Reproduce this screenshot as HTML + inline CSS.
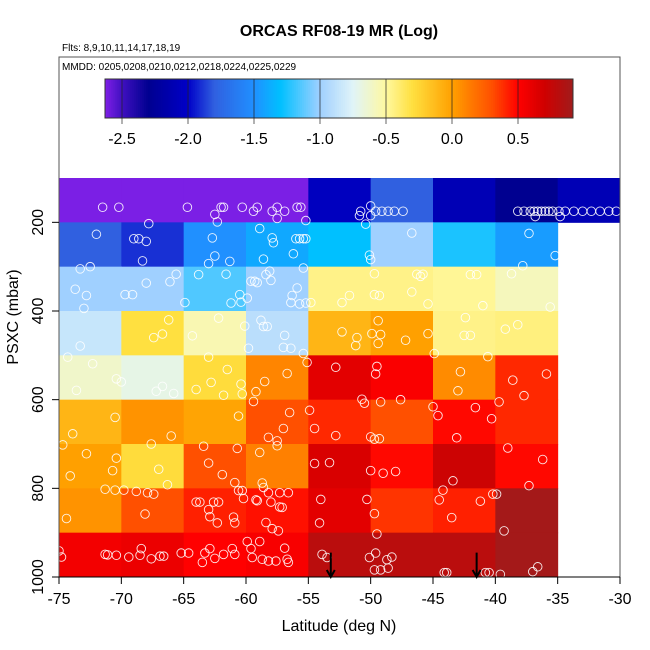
<!DOCTYPE html>
<html><head><meta charset="utf-8"><style>
body{margin:0;background:#fff}
svg{display:block;font-family:"Liberation Sans",sans-serif}
</style></head><body>
<svg id="c" width="650" height="650" viewBox="0 0 650 650" xmlns="http://www.w3.org/2000/svg">
<rect width="650" height="650" fill="#fff"/>
<g id="cells"></g>
<g id="pts"></g>
<g id="arrows"></g>
<rect x="59" y="57" width="561" height="520" fill="none" stroke="#555" stroke-width="1"/>
<g id="cbar"></g>
<g id="axes"></g>
<text x="339" y="36" text-anchor="middle" font-size="16" font-weight="bold">ORCAS RF08-19 MR (Log)</text>
<text x="62" y="51" font-size="10">Flts: 8,9,10,11,14,17,18,19</text>
<text x="62" y="70" font-size="10">MMDD: 0205,0208,0210,0212,0218,0224,0225,0229</text>
<text x="339" y="631" text-anchor="middle" font-size="16">Latitude (deg N)</text>
<text transform="translate(18,317) rotate(-90)" text-anchor="middle" font-size="16">PSXC (mbar)</text>
</svg>
<script>
const latBins=[-75,-70,-65,-60,-55,-50,-45,-40,-35,-30];
const presBins=[100,200,300,400,500,600,700,800,900,1000];
const row1=[-2.62,-2.62,-2.62,-2.62,-2.05,-1.8,-2.1,-2.3,-2.1];
const row2=[-1.8,-1.9,-1.5,-1.4,-1.3,-1.0,-1.25,-1.45,null];
const row3=[-1.0,-1.0,-1.15,-1.0,-0.45,-0.45,-0.48,-0.58,null];
const row4=[-0.85,-0.3,-0.55,-0.9,-0.1,0.0,-0.45,-0.43,null];
const row5=[-0.62,-0.7,-0.28,0.1,0.62,0.52,0.08,0.4,null];
const row6=[-0.1,0.05,-0.02,0.3,0.4,0.3,0.48,0.4,null];
const row7=[0.0,-0.28,0.3,0.12,0.66,0.48,0.72,0.48,null];
const row8=[0.05,0.3,0.42,0.46,0.62,0.37,0.42,0.9,null];
const row9=[0.55,0.58,0.5,0.53,0.8,0.8,0.8,0.9,null];
const gridRows=[row1,row2,row3,row4,row5,row6,row7,row8,row9];
const xTicks=[-75,-70,-65,-60,-55,-50,-45,-40,-35,-30];
const yTicks=[200,400,600,800,1000];
const cbTicks=[-2.5,-2.0,-1.5,-1.0,-0.5,0.0,0.5];
const arrowLats=[-53.2,-41.5];
const obsPoints=[[-71.5,166],[-70.2,166],[-64.7,166],[-62.5,182],[-62.3,199],[-62,166],[-61.8,166],[-60.3,166],[-59.4,175],[-59.1,166],[-57.9,175],[-57.5,166],[-57.5,191],[-56.9,175],[-55.9,166],[-55.6,166],[-55.2,196],
[-50.9,185],[-50.8,175],[-50,163],[-50,185],[-50.4,204],[-49.6,175],[-49.1,175],[-48.6,175],[-48.1,175],[-47.4,175],
[-38.2,175],[-37.7,175],[-37.2,175],[-36.9,175],[-36.6,175],[-36.3,175],[-36,175],[-35.7,175],[-35.4,175],[-34.9,175],[-34.4,175],[-33.7,175],[-33,175],[-32.3,175],[-31.6,175],[-30.9,175],[-30.3,175],[-36.8,187],[-34.8,187],
[-72,227],[-69,237],[-68.6,237],[-68,243],[-67.8,203],[-68.3,287],[-62.7,235],[-62.5,276],[-63,293],[-61.3,288],[-58.9,214],[-57.9,235],[-57.8,246],[-58.6,283],[-56.2,271],[-56,237],[-55.7,237],[-55.4,237],[-55.2,237],[-55.4,303],[-50.1,274],[-50,284],[-46.7,224],[-37.3,225],[-37.8,298],[-35.2,275],
[-73.3,305],[-72.5,300],[-73.7,351],[-72.8,365],[-73,394],[-69.7,363],[-69.1,363],[-68,337],[-66.1,334],[-65.6,317],[-64.9,381],[-63.8,318],[-61.6,317],[-60.5,363],[-61.2,382],[-60.4,380],[-59.9,371],[-59.6,333],[-59.3,333],[-59.1,336],[-58.4,318],[-58.1,310],[-58,331],[-55.9,348],[-56.3,365],[-56.4,381],[-55.7,384],[-55.2,382],[-54.8,381],[-52.3,381],[-51.7,365],[-49.7,316],[-49.7,363],[-49.3,365],[-46.7,357],[-46.3,317],[-46,322],[-45.8,317],[-45.4,384],[-42,318],[-41.5,318],[-41,388],[-38.7,316],[-35.6,391],
[-73.3,479],[-66.2,420],[-67.4,460],[-66.7,452],[-64.3,456],[-62.2,416],[-58.8,421],[-60.1,434],[-58.6,435],[-58.3,435],[-56.9,455],[-57,482],[-56.4,484],[-59.8,484],[-55.4,496],[-52.3,447],[-51.1,460],[-51.2,478],[-49.4,422],[-49.9,451],[-49.2,453],[-49.4,473],[-47.2,466],[-45.4,451],[-42.4,415],[-42.5,455],[-42,455],[-39.2,441],[-38.2,431],[-44.9,496],
[-74.3,504],[-72.3,519],[-73.6,579],[-70.4,553],[-70,560],[-67.2,581],[-66.7,570],[-65.8,586],[-63,504],[-61.5,532],[-62.8,561],[-64,577],[-61.8,590],[-60.4,565],[-60.3,587],[-59.2,582],[-58.5,559],[-59.4,604],[-56.7,541],[-55.1,516],[-52.8,527],[-49.5,525],[-49.6,542],[-50.7,599],[-50.5,608],[-49.2,605],[-47.6,600],[-42.8,537],[-43,580],[-40.6,503],[-38.6,556],[-37.7,591],[-35.9,542],[-39.7,605],
[-70.5,640],[-73.9,677],[-74.7,702],[-66,682],[-67.6,700],[-60.6,637],[-56.5,629],[-57,665],[-58.2,685],[-57.5,693],[-57.5,704],[-54.9,624],[-54.5,665],[-52.8,681],[-50,684],[-49.7,689],[-49.3,688],[-45,616],[-44.6,636],[-41.6,618],[-40.3,643],[-43.1,686],[-39,709],
[-72.8,722],[-70.4,732],[-70.7,760],[-74.1,772],[-67,757],[-66.3,792],[-63.4,705],[-63,743],[-61.9,769],[-60.7,710],[-58.9,719],[-58.7,788],[-58.6,798],[-60.9,787],[-60.6,805],[-60.3,805],[-54.5,744],[-53.3,742],[-50,760],[-49,766],[-48,762],[-43.4,783],[-44.2,804],[-36.2,735],[-37.3,794],
[-74.4,868],[-71.3,802],[-70.5,804],[-69.8,804],[-68.8,807],[-67.9,810],[-67.4,813],[-68.1,858],[-64,831],[-63.7,831],[-62.6,831],[-62.2,831],[-63,848],[-62.9,864],[-62.3,878],[-60.2,823],[-59.2,826],[-59.1,828],[-58.2,810],[-57.3,810],[-56.6,810],[-58,831],[-57.3,842],[-57.1,843],[-61,865],[-60.9,878],[-58.4,877],[-57.9,891],[-57.4,896],[-54,825],[-54.1,878],[-50.3,825],[-49.7,857],[-49.5,903],[-44.5,826],[-43.5,866],[-41.2,829],[-40.2,813],[-39.9,813],[-39.3,896],
[-75,941],[-74.8,955],[-71.3,949],[-71.1,950],[-70.4,951],[-69.4,955],[-68.4,936],[-68.5,951],[-67.6,959],[-66.9,953],[-66.6,953],[-65.2,946],[-64.6,946],[-63.5,967],[-63.3,946],[-62.9,936],[-62.5,958],[-61.8,949],[-61.1,936],[-60.9,949],[-59.9,920],[-59.6,936],[-58.9,920],[-59.5,956],[-58.7,960],[-58.2,964],[-57.6,964],[-56.9,935],[-56.7,960],[-56.6,967],[-53.9,949],[-53.5,956],[-50.1,956],[-49.6,946],[-49.7,984],[-49.2,984],[-48.6,980],[-48.7,961],[-48.3,955],[-44.1,990],[-43.9,990],[-40.8,990],[-40.5,990],[-39.6,994],[-37,988],[-36.6,977]];

const NS="http://www.w3.org/2000/svg";
const X=lat=>59+(lat+75)*561/45;
const Y=p=>178+(p-100)*399/900;
const CB=v=>452+v*132;
const stops=[[-2.63,[128,32,232]],[-2.5,[64,16,192]],[-2.3,[0,0,144]],[-2.0,[0,0,200]],[-1.8,[48,96,224]],[-1.5,[32,144,255]],[-1.3,[0,192,255]],[-1.0,[160,208,255]],[-0.75,[224,244,248]],[-0.5,[255,248,160]],[-0.3,[255,224,64]],[0,[255,160,0]],[0.3,[255,80,0]],[0.5,[255,0,0]],[0.7,[208,0,0]],[0.92,[160,28,28]]];
function col(v){
  if(v<=stops[0][0])return `rgb(${stops[0][1]})`;
  for(let i=1;i<stops.length;i++){
    if(v<=stops[i][0]){const a=stops[i-1],b=stops[i],t=(v-a[0])/(b[0]-a[0]);
      return `rgb(${a[1].map((c,k)=>Math.round(c+(b[1][k]-c)*t)).join(',')})`;}
  }
  return `rgb(${stops[stops.length-1][1]})`;
}
function mk(tag,attrs,parent){const e=document.createElementNS(NS,tag);for(const k in attrs)e.setAttribute(k,attrs[k]);parent.appendChild(e);return e;}

const cells=document.getElementById('cells');
gridRows.forEach((row,r)=>row.forEach((v,c)=>{
  if(v===null)return;
  const e=mk('rect',{x:X(latBins[c]),y:Y(presBins[r]),width:X(latBins[c+1])-X(latBins[c])+0.5,height:Y(presBins[r+1])-Y(presBins[r])+0.5,fill:col(v)},cells);
  
  
}));

const pts=document.getElementById('pts');
obsPoints.forEach(p=>{
  const e=mk('circle',{cx:X(p[0]),cy:Y(p[1]),r:4.3,fill:'none',stroke:'#fff','stroke-width':0.9,opacity:0.9},pts);
  
  
});

const ar=document.getElementById('arrows');
arrowLats.forEach(l=>{
  const g=mk('g',{},ar);
  
  
  mk('line',{x1:X(l),y1:Y(945),x2:X(l),y2:Y(1000)-1,stroke:'#000','stroke-width':2},g);
  mk('path',{d:`M${X(l)-4},${Y(1000)-7} L${X(l)},${Y(1000)} L${X(l)+4},${Y(1000)-7}`,fill:'none',stroke:'#000','stroke-width':2},g);
});

const cb=document.getElementById('cbar');
const cbMin=(105-452)/132,cbMax=(573-452)/132,N=240;
for(let i=0;i<N;i++){
  const v=cbMin+(cbMax-cbMin)*(i+0.5)/N;
  const x0=CB(cbMin+(cbMax-cbMin)*i/N);
  const e=mk('rect',{x:x0,y:79,width:(573-105)/N+0.4,height:39,fill:col(v)},cb);
  
  
}
mk('rect',{x:105,y:79,width:468,height:39,fill:'none',stroke:'#333','stroke-width':1},cb);
cbTicks.forEach(t=>{
  mk('line',{x1:CB(t),y1:79,x2:CB(t),y2:124,stroke:'#222','stroke-opacity':0.7,'stroke-width':1},cb);
  const e=mk('text',{x:CB(t),y:144,'text-anchor':'middle','font-size':16},cb);
  e.textContent=t.toFixed(1);
  
  
});

const ax=document.getElementById('axes');
mk('line',{x1:59,y1:577,x2:620,y2:577,stroke:'#000'},ax);
xTicks.forEach(t=>{
  mk('line',{x1:X(t),y1:577,x2:X(t),y2:584,stroke:'#000'},ax);
  const e=mk('text',{x:X(t),y:604,'text-anchor':'middle','font-size':16},ax);
  e.textContent=String(t);
  
  
});
yTicks.forEach(t=>{
  mk('line',{x1:52,y1:Y(t),x2:59,y2:Y(t),stroke:'#000'},ax);
  const e=mk('text',{transform:`translate(43,${Y(t)}) rotate(-90)`,'text-anchor':'middle','font-size':16},ax);
  e.textContent=String(t);
  
  
});
</script>
</body></html>
